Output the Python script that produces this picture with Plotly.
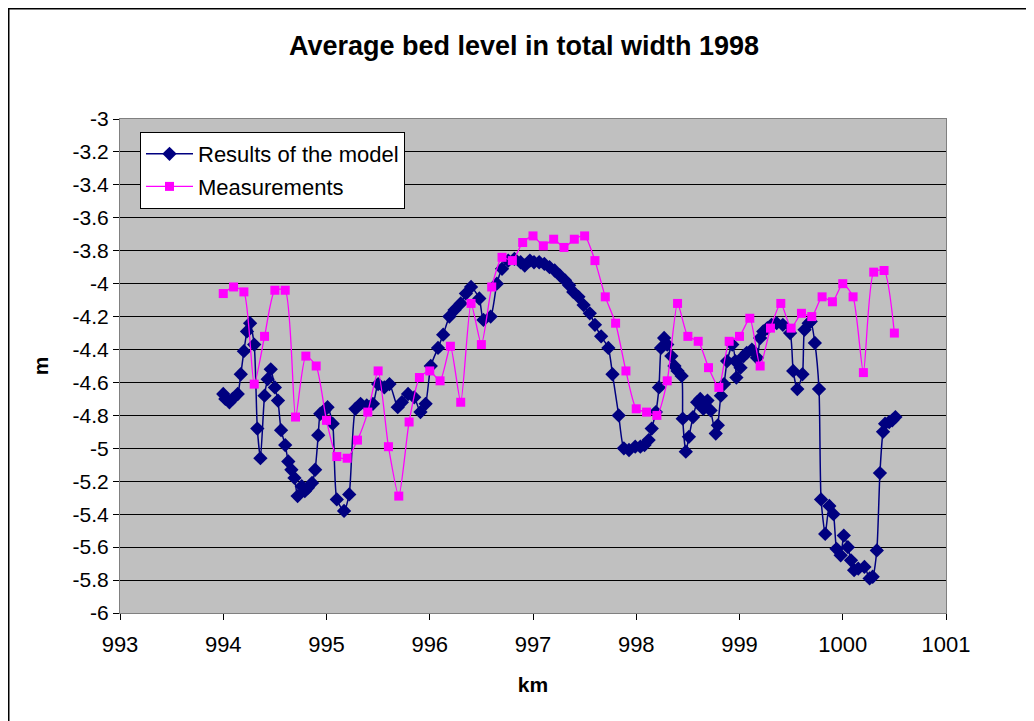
import plotly.graph_objects as go

# ---- data ----
model_km = [994.00, 994.02, 994.06, 994.09, 994.14, 994.17, 994.20, 994.23, 994.26, 994.30,
            994.33, 994.36, 994.40, 994.43, 994.46, 994.50, 994.53, 994.56, 994.60, 994.63,
            994.66, 994.69, 994.72, 994.76, 994.79, 994.82, 994.86, 994.89, 994.92, 994.94,
            994.98, 995.01, 995.06, 995.10, 995.17, 995.22, 995.28, 995.33, 995.39, 995.45,
            995.50, 995.56, 995.61, 995.69, 995.73, 995.79, 995.85, 995.91, 995.96, 996.01,
            996.08, 996.13, 996.19, 996.24, 996.30, 996.35, 996.40, 996.48, 996.52, 996.59,
            996.65, 996.70, 996.76, 996.82, 996.88, 996.92, 996.97, 997.01, 997.06, 997.11,
            997.16, 997.21, 997.26, 997.31, 997.35, 997.39, 997.44, 997.49, 997.55, 997.60,
            997.66, 997.73, 997.77, 997.83, 997.88, 997.93, 997.99, 998.04, 998.08, 998.12,
            998.15, 998.19, 998.22, 998.24, 998.27, 998.30, 998.34, 998.37, 998.40, 998.44,
            998.45, 998.48, 998.51, 998.55, 998.59, 998.62, 998.65, 998.69, 998.72, 998.77,
            998.79, 998.82, 998.85, 998.88, 998.93, 998.96, 998.97, 999.01, 999.04, 999.07,
            999.12, 999.17, 999.20, 999.23, 999.27, 999.31, 999.36, 999.42, 999.49, 999.52,
            999.56, 999.61, 999.63, 999.67, 999.69, 999.73, 999.77, 999.79, 999.83, 999.87,
            999.91, 999.94, 999.98, 1000.01, 1000.05, 1000.08, 1000.11, 1000.15, 1000.21, 1000.26,
            1000.29, 1000.33, 1000.36, 1000.39, 1000.41, 1000.45, 1000.48, 1000.51]
model_level = [-4.67, -4.70, -4.72, -4.70, -4.67, -4.55, -4.41, -4.29, -4.24, -4.37,
               -4.88, -5.06, -4.68, -4.58, -4.52, -4.63, -4.71, -4.89, -4.98, -5.08,
               -5.13, -5.18, -5.29, -5.23, -5.26, -5.24, -5.21, -5.13, -4.92, -4.79,
               -4.77, -4.75, -4.85, -5.31, -5.38, -5.28, -4.76, -4.73, -4.74, -4.73,
               -4.61, -4.63, -4.61, -4.75, -4.72, -4.67, -4.69, -4.78, -4.73, -4.50,
               -4.39, -4.31, -4.20, -4.16, -4.12, -4.06, -4.02, -4.09, -4.22, -4.20,
               -4.00, -3.91, -3.86, -3.85, -3.87, -3.89, -3.86, -3.87, -3.87, -3.88,
               -3.90, -3.92, -3.95, -3.98, -4.01, -4.05, -4.08, -4.13, -4.18, -4.25,
               -4.32, -4.39, -4.55, -4.80, -5.00, -5.01, -4.99, -4.99, -4.98, -4.95,
               -4.88, -4.78, -4.63, -4.39, -4.33, -4.37, -4.44, -4.50, -4.53, -4.56,
               -4.82, -5.02, -4.93, -4.81, -4.72, -4.70, -4.76, -4.71, -4.77, -4.91,
               -4.86, -4.68, -4.61, -4.47, -4.37, -4.47, -4.57, -4.51, -4.44, -4.42,
               -4.40, -4.45, -4.33, -4.29, -4.27, -4.25, -4.24, -4.25, -4.30, -4.53,
               -4.64, -4.55, -4.28, -4.24, -4.23, -4.36, -4.64, -5.31, -5.52, -5.35,
               -5.40, -5.61, -5.65, -5.53, -5.60, -5.68, -5.74, -5.73, -5.72, -5.79,
               -5.78, -5.62, -5.15, -4.90, -4.85, -4.84, -4.83, -4.81]

meas_km = [994.0, 994.1, 994.2, 994.3, 994.4, 994.5, 994.6, 994.7, 994.8, 994.9,
           995.0, 995.1, 995.2, 995.3, 995.4, 995.5, 995.6, 995.7, 995.8, 995.9,
           996.0, 996.1, 996.2, 996.3, 996.4, 996.5, 996.6, 996.7, 996.8, 996.9,
           997.0, 997.1, 997.2, 997.3, 997.4, 997.5, 997.6, 997.7, 997.8, 997.9,
           998.0, 998.1, 998.2, 998.3, 998.4, 998.5, 998.6, 998.7, 998.8, 998.9,
           999.0, 999.1, 999.2, 999.3, 999.4, 999.5, 999.6, 999.7, 999.8, 999.9,
           1000.0, 1000.1, 1000.2, 1000.3, 1000.4, 1000.5]
meas_level = [-4.06, -4.02, -4.05, -4.61, -4.32, -4.04, -4.04, -4.81, -4.44, -4.50,
              -4.83, -5.05, -5.06, -4.95, -4.78, -4.53, -4.99, -5.29, -4.84, -4.57,
              -4.53, -4.59, -4.38, -4.72, -4.12, -4.37, -4.02, -3.84, -3.86, -3.75,
              -3.71, -3.77, -3.73, -3.78, -3.73, -3.71, -3.86, -4.08, -4.24, -4.53,
              -4.76, -4.78, -4.80, -4.59, -4.12, -4.32, -4.35, -4.51, -4.63, -4.35,
              -4.32, -4.21, -4.50, -4.27, -4.12, -4.27, -4.18, -4.20, -4.08, -4.11,
              -4.00, -4.08, -4.54, -3.93, -3.92, -4.30]

x_ticks = [993, 994, 995, 996, 997, 998, 999, 1000, 1001]
y_ticks = [-3, -3.2, -3.4, -3.6, -3.8, -4, -4.2, -4.4, -4.6, -4.8,
           -5, -5.2, -5.4, -5.6, -5.8, -6]
y_tick_text = ["-3", "-3.2", "-3.4", "-3.6", "-3.8", "-4", "-4.2", "-4.4", "-4.6", "-4.8",
               "-5", "-5.2", "-5.4", "-5.6", "-5.8", "-6"]

FONT = "Liberation Sans, Arial, sans-serif"

# page has an 8px body margin: figure is 1026x713 so the plot lands where the reference has it
W, H = 1026, 713
ML, MR, MT, MB = 112, 88, 111, 108
PW, PH = W - ML - MR, H - MT - MB

fig = go.Figure()
fig.add_trace(go.Scatter(
    x=model_km, y=model_level, name="Results of the model", legendgroup="a",
    mode="lines+markers",
    line=dict(color="#000080", width=1.5, shape="spline", smoothing=0.6),
    marker=dict(symbol="diamond", size=11, color="#000080"),
))
fig.add_trace(go.Scatter(
    x=meas_km, y=meas_level, name="Measurements", legendgroup="b",
    mode="lines+markers",
    line=dict(color="#FF00FF", width=1.3, shape="spline", smoothing=0.6),
    marker=dict(symbol="square", size=9, color="#FF00FF"),
))

fig.update_layout(
    width=W, height=H,
    margin=dict(l=ML, r=MR, t=MT, b=MB),
    paper_bgcolor="white",
    plot_bgcolor="#C0C0C0",
    font=dict(family=FONT, size=20, color="black"),
    title=dict(text="<b>Average bed level in total width 1998</b>",
               x=0.503, xref="container", y=0.948, yref="container",
               xanchor="center", yanchor="middle",
               font=dict(family=FONT, size=27, color="black")),
    showlegend=True,
    legend=dict(x=(140 - 120) / PW, y=1 - (132 - 119) / PH, xanchor="left", yanchor="top",
                bgcolor="white", bordercolor="black", borderwidth=1,
                font=dict(family=FONT, size=22, color="black"),
                tracegroupgap=1, itemwidth=47),
    xaxis=dict(
        range=[993, 1001], tickvals=x_ticks, ticks="outside", ticklen=6,
        tickcolor="black", showgrid=False, zeroline=False,
        showline=True, linecolor="#808080", linewidth=1, mirror=True,
        tickfont=dict(family=FONT, size=22), ticklabelstandoff=6,
        title=dict(text="<b>km</b>", standoff=20, font=dict(family=FONT, size=21)),
    ),
    yaxis=dict(
        range=[-6, -3], tickvals=y_ticks, ticktext=y_tick_text, ticks="outside", ticklen=6,
        tickcolor="black", showgrid=True, gridcolor="black", gridwidth=1, zeroline=False,
        showline=True, linecolor="#808080", linewidth=1, mirror=True,
        tickfont=dict(family=FONT, size=21),
        title=dict(text="<b>m</b>", standoff=18, font=dict(family=FONT, size=21)),
    ),
    shapes=[dict(type="rect", xref="paper", yref="paper",
                 x0=(0.75 - ML) / PW, x1=(W + 20 - ML) / PW,
                 y0=1 - (H + 20 - MT) / PH, y1=1 + (MT - 0.75) / PH,
                 line=dict(color="black", width=1.5), fillcolor="rgba(0,0,0,0)",
                 layer="below")],
)

fig.write_html("out.html")
